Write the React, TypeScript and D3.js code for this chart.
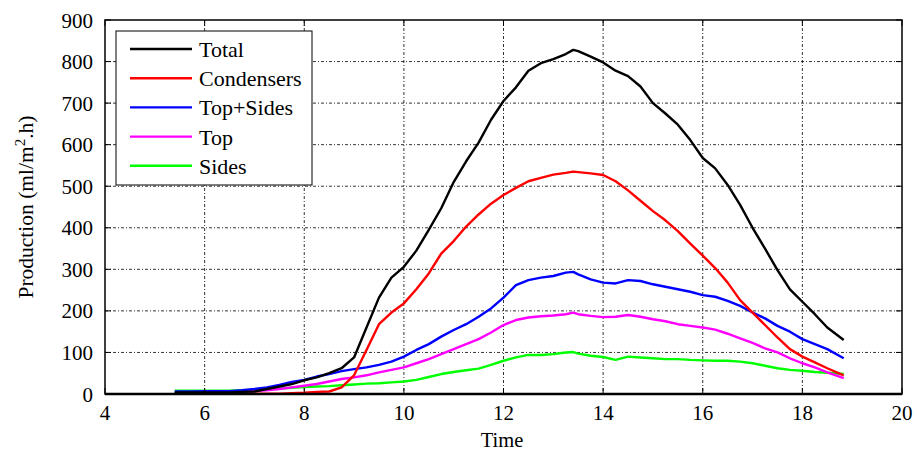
import React from "react";
import * as d3 from "d3";

const time = [5.4, 5.75, 6, 6.25, 6.5, 6.75, 7, 7.25, 7.5, 7.75, 8, 8.25, 8.5, 8.75, 9, 9.25, 9.5, 9.75, 10, 10.25, 10.5, 10.75, 11, 11.25, 11.5, 11.75, 12, 12.25, 12.5, 12.75, 13, 13.25, 13.4, 13.5, 13.75, 14, 14.25, 14.5, 14.75, 15, 15.25, 15.5, 15.75, 16, 16.25, 16.5, 16.75, 17, 17.25, 17.5, 17.75, 18, 18.25, 18.5, 18.83];

const total = [4, 4, 4, 4, 4, 5, 6, 12, 18, 24, 33, 40, 50, 62, 88, 160, 232, 280, 306, 345, 395, 447, 510, 560, 605, 660, 705, 738, 778, 796, 806, 818, 828, 825, 812, 798, 778, 765, 740, 700, 675, 648, 611, 568, 543, 503, 455, 400, 350, 298, 252, 222, 192, 160, 130];
const condensers = [1, 1, 1, 1, 1, 1, 1, 1, 1, 2, 3, 5, 6, 16, 45, 106, 168, 196, 218, 252, 290, 338, 368, 403, 432, 458, 479, 496, 512, 520, 528, 532, 535, 534, 531, 527, 512, 490, 465, 440, 418, 392, 362, 333, 303, 268, 226, 196, 166, 136, 108, 90, 76, 62, 45];
const topSides = [6, 6, 7, 7, 7, 9, 12, 16, 22, 29, 34, 42, 48, 55, 60, 64, 70, 78, 90, 106, 120, 138, 154, 168, 186, 206, 232, 262, 274, 280, 284, 292, 294, 288, 276, 268, 266, 274, 272, 264, 258, 252, 246, 238, 234, 224, 212, 196, 182, 164, 150, 132, 120, 108, 86];
const top = [2, 2, 2, 3, 3, 5, 7, 9, 12, 16, 20, 24, 30, 36, 40, 45, 52, 58, 64, 74, 84, 96, 108, 120, 132, 148, 166, 178, 184, 187, 189, 192, 196, 192, 188, 185, 186, 190, 186, 180, 175, 168, 164, 160, 155, 145, 134, 123, 110, 100, 86, 74, 64, 52, 38];
const sides = [8, 8, 8, 8, 8, 9, 10, 11, 13, 15, 17, 18, 19, 21, 23, 25, 26, 28, 30, 34, 41, 48, 53, 57, 61, 70, 80, 88, 94, 94, 96, 100, 101, 97, 92, 89, 82, 90, 88, 86, 84, 84, 82, 81, 80, 80, 78, 74, 68, 62, 58, 56, 53, 51, 48];

const seriesNames = ["Total", "Condensers", "Top+Sides", "Top", "Sides"];
const seriesColors = ["#000000", "#ff0000", "#0000ff", "#ff00ff", "#00ff00"];
const seriesValues = [total, condensers, topSides, top, sides];
const drawOrder = [4, 3, 2, 1, 0];

const xTicks = [4, 6, 8, 10, 12, 14, 16, 18, 20];
const yTicks = [0, 100, 200, 300, 400, 500, 600, 700, 800, 900];

export default function App() {
  const W = 917, H = 452;
  const L = 105, R = 902, T = 20, B = 394;
  const x = d3.scaleLinear().domain([4, 20]).range([L, R]);
  const y = d3.scaleLinear().domain([0, 900]).range([B, T]);
  const font = "'Liberation Serif', 'Times New Roman', serif";
  const line = d3.line<[number, number]>().x(d => x(d[0])).y(d => y(d[1]));
  const dash = "3,2,1,2";

  return (
    <svg width={W} height={H} style={{ position: "absolute", left: 0, top: 0, background: "#fff" }} fontFamily={font}>
      <rect x={0} y={0} width={W} height={H} fill="#fff" />
      {xTicks.slice(1, -1).map(t => (
        <line key={"gx" + t} x1={x(t)} x2={x(t)} y1={T} y2={B} stroke="#000" strokeWidth={0.8} strokeDasharray={dash} />
      ))}
      {yTicks.slice(1, -1).map(t => (
        <line key={"gy" + t} x1={L} x2={R} y1={y(t)} y2={y(t)} stroke="#000" strokeWidth={0.8} strokeDasharray={dash} />
      ))}
      {drawOrder.map(i => (
        <path key={seriesNames[i]} d={line(time.map((t, k) => [t, seriesValues[i][k]] as [number, number])) || ""} fill="none" stroke={seriesColors[i]} strokeWidth={2.4} strokeLinejoin="round" />
      ))}
      <rect x={L} y={T} width={R - L} height={B - T} fill="none" stroke="#000" strokeWidth={1.5} />
      <line x1={L} x2={R} y1={B} y2={B} stroke="#000" strokeWidth={2.5} />
      {xTicks.map(t => (
        <g key={"tx" + t}>
          <line x1={x(t)} x2={x(t)} y1={B} y2={B - 6} stroke="#000" strokeWidth={1} />
          <line x1={x(t)} x2={x(t)} y1={T} y2={T + 6} stroke="#000" strokeWidth={1} />
          <text x={x(t)} y={420} fontSize={21} textAnchor="middle" fill="#000">{t}</text>
        </g>
      ))}
      {yTicks.map(t => (
        <g key={"ty" + t}>
          <line x1={L} x2={L + 6} y1={y(t)} y2={y(t)} stroke="#000" strokeWidth={1} />
          <line x1={R} x2={R - 6} y1={y(t)} y2={y(t)} stroke="#000" strokeWidth={1} />
          <text x={93} y={y(t) + 7.5} fontSize={21} textAnchor="end" fill="#000">{t}</text>
        </g>
      ))}
      <text x={502} y={447} fontSize={20.5} textAnchor="middle" fill="#000">Time</text>
      <text transform={`translate(33, 207) rotate(-90)`} fontSize={21.5} textAnchor="middle" fill="#000">
        Production (ml/m<tspan dy={-8} fontSize={15}>2</tspan><tspan dy={8}>.h)</tspan>
      </text>
      <rect x={116} y={31} width={196} height={154} fill="#fff" stroke="#000" strokeWidth={1} />
      {seriesNames.map((n, i) => {
        const ly = 49 + i * 29.2;
        return (
          <g key={"lg" + n}>
            <line x1={130} x2={192} y1={ly} y2={ly} stroke={seriesColors[i]} strokeWidth={2.4} />
            <text x={199} y={ly + 8} fontSize={22} fill="#000">{n}</text>
          </g>
        );
      })}
    </svg>
  );
}
